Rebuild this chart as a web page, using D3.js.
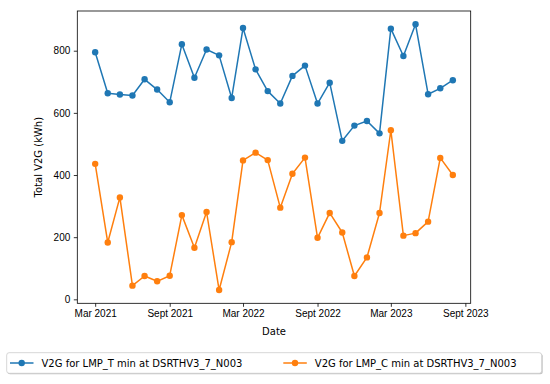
<!DOCTYPE html>
<html>
<head>
<meta charset="utf-8">
<script src="https://cdn.jsdelivr.net/npm/d3@7"></script>
<style>
  body { margin: 0; background: #fff; }
  svg { font-family: "DejaVu Sans", sans-serif; }
</style>
</head>
<body>
<div id="chart"></div>
<script>
// monthly points, Mar 2021 .. Aug 2023
var months = ["2021-03","2021-04","2021-05","2021-06","2021-07","2021-08","2021-09","2021-10","2021-11","2021-12",
  "2022-01","2022-02","2022-03","2022-04","2022-05","2022-06","2022-07","2022-08","2022-09","2022-10","2022-11","2022-12",
  "2023-01","2023-02","2023-03","2023-04","2023-05","2023-06","2023-07","2023-08"]

var lmpT = [795, 663, 659, 656, 708, 675, 634, 821, 713, 804, 785, 648, 873, 740, 670, 630, 719, 752, 630, 697,
  510, 559, 574, 534, 871, 783, 885, 660, 679, 705]

var lmpC = [436, 183, 328, 44, 75, 58, 76, 271, 166, 281, 30, 184, 447, 472, 448, 295, 404, 456, 198, 278,
  215, 75, 135, 278, 544, 205, 213, 250, 455, 400]

var seriesNames = ["V2G for LMP_T min at DSRTHV3_7_N003", "V2G for LMP_C min at DSRTHV3_7_N003"]
var seriesColors = ["#1f77b4", "#ff7f0e"]

var xTicks = ["2021-03","2021-09","2022-03","2022-09","2023-03","2023-09"]
var yTicks = [0, 200, 400, 600, 800]

var parseMonth = d3.timeParse("%Y-%m")
var dates = months.map(parseMonth)

var containerWidth = 550, containerHeight = 384
var margin = { top: 11, left: 77.3, bottom: 80.7, right: 79.3 }
var width = containerWidth - margin.left - margin.right
var height = containerHeight - margin.top - margin.bottom

var svg = d3.select("#chart")
  .append("svg")
  .attr("width", containerWidth)
  .attr("height", containerHeight)

// matplotlib style 5% padding
function padded(ext) {
  var span = ext[1] - ext[0]
  return [ext[0] - span * 0.05, ext[1] + span * 0.05]
}

var xExt = d3.extent(dates).map(function (d) { return +d })
var xPad = padded(xExt)
var xScale = d3.scaleTime().domain([new Date(xPad[0]), new Date(xPad[1])]).range([0, width])
var yScale = d3.scaleLinear().domain(padded(d3.extent(lmpT.concat(lmpC)))).range([height, 0])

var g = svg.append("g")
  .attr("transform", "translate(" + margin.left + "," + margin.top + ")")

function fmtDate(d) {
  var m = d.getMonth() == 2 ? "Mar" : "Sept"
  return m + " " + d.getFullYear()
}

var xAxis = d3.axisBottom(xScale)
  .tickValues(xTicks.map(parseMonth))
  .tickFormat(fmtDate)
  .tickSize(3.5)
  .tickPadding(3.5)
var yAxis = d3.axisLeft(yScale)
  .tickValues(yTicks)
  .tickSize(3.5)
  .tickPadding(3.5)

var gx = g.append("g")
  .attr("transform", "translate(0," + height + ")")
  .call(xAxis)
var gy = g.append("g").call(yAxis)

g.selectAll(".domain").remove()
g.selectAll(".tick line").attr("stroke", "#000").attr("stroke-width", 0.8)
g.selectAll(".tick text").attr("fill", "#000").attr("font-size", "10px")

// frame
g.append("rect")
  .attr("width", width)
  .attr("height", height)
  .attr("fill", "none")
  .attr("stroke", "#000")
  .attr("stroke-width", 0.8)

var line = d3.line()
  .x(function (d) { return xScale(d[0]) })
  .y(function (d) { return yScale(d[1]) })

var allSeries = [lmpT, lmpC]
allSeries.forEach(function (vals, i) {
  var pts = vals.map(function (v, j) { return [dates[j], v] })
  g.append("path")
    .datum(pts)
    .attr("d", line)
    .attr("fill", "none")
    .attr("stroke", seriesColors[i])
    .attr("stroke-width", 1.5)
    .attr("stroke-linejoin", "round")
  g.append("g")
    .selectAll("circle")
    .data(pts)
    .enter()
    .append("circle")
    .attr("cx", function (d) { return xScale(d[0]) })
    .attr("cy", function (d) { return yScale(d[1]) })
    .attr("r", 3.2)
    .attr("fill", seriesColors[i])
})

// axis labels
svg.append("text")
  .attr("x", margin.left + width / 2)
  .attr("y", 335)
  .attr("text-anchor", "middle")
  .attr("font-size", "10px")
  .text("Date")

svg.append("text")
  .attr("transform", "translate(41.5," + (margin.top + height / 2) + ") rotate(-90)")
  .attr("text-anchor", "middle")
  .attr("font-size", "10px")
  .text("Total V2G (kWh)")

// legend
var legend = svg.append("g")
legend.append("rect")
  .attr("x", 7.7).attr("y", 353.7)
  .attr("width", 535).attr("height", 20.6)
  .attr("rx", 2.5)
  .attr("fill", "#888").attr("opacity", 0.5)
legend.append("rect")
  .attr("x", 6.7).attr("y", 352.7)
  .attr("width", 535).attr("height", 20.6)
  .attr("rx", 2.5)
  .attr("fill", "#fff")
  .attr("stroke", "#ccc")
  .attr("stroke-width", 0.8)

var legendX = [10, 283.3]
seriesNames.forEach(function (name, i) {
  var lg = legend.append("g").attr("transform", "translate(" + legendX[i] + ",363)")
  lg.append("line")
    .attr("x1", 0).attr("x2", 23.5)
    .attr("stroke", seriesColors[i]).attr("stroke-width", 1.5)
  lg.append("circle")
    .attr("cx", 11.7).attr("r", 3.2)
    .attr("fill", seriesColors[i])
  lg.append("text")
    .attr("x", 31.5)
    .attr("dy", "0.35em")
    .attr("font-size", "10px")
    .text(name)
})
</script>
</body>
</html>
